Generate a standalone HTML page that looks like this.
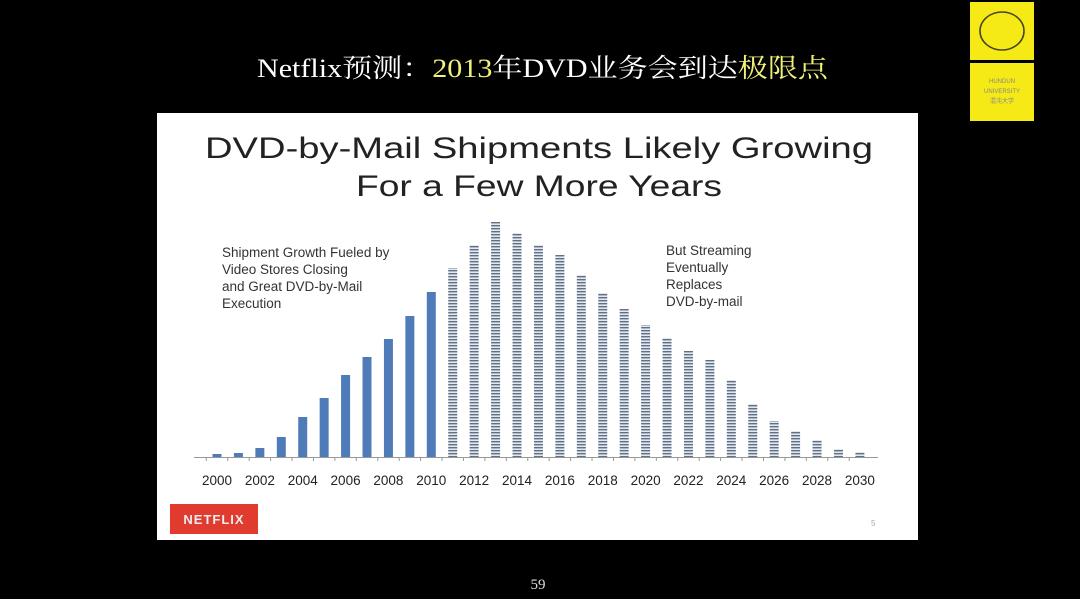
<!DOCTYPE html>
<html><head><meta charset="utf-8"><style>
html,body{margin:0;padding:0;background:#000;}
svg{display:block;}
</style></head><body>
<svg width="1080" height="599" xmlns="http://www.w3.org/2000/svg">
<defs>
<pattern id="st" width="4" height="3" patternUnits="userSpaceOnUse">
<rect width="4" height="3" fill="#e4e8ee"/>
<rect width="4" height="1.4" fill="#5f7187"/>
</pattern>
</defs>
<rect width="1080" height="599" fill="#000"/>
<text x="257" y="77" font-family="Liberation Serif, Noto Serif CJK SC, serif" font-size="26" fill="#fff" textLength="571" lengthAdjust="spacingAndGlyphs">Netflix预测：<tspan fill="#f0f07a">2013</tspan>年DVD业务会到达<tspan fill="#f0f07a">极限点</tspan></text>
<!-- logo -->
<rect x="970" y="2" width="64" height="58" fill="#f5ea16"/>
<rect x="970" y="63" width="64" height="58" fill="#f5ea16"/>
<ellipse cx="1002" cy="31" rx="22" ry="19" fill="none" stroke="#4a4520" stroke-width="1.6"/>
<text x="1002" y="83" font-family="Liberation Sans, sans-serif" font-size="6" fill="#888" text-anchor="middle">HUNDUN</text>
<text x="1002" y="93" font-family="Liberation Sans, sans-serif" font-size="6" fill="#888" text-anchor="middle">UNIVERSITY</text>
<text x="1002" y="103" font-family="Liberation Sans, sans-serif" font-size="6" fill="#888" text-anchor="middle">混沌大学</text>
<!-- slide -->
<rect x="157" y="113" width="761" height="427" fill="#fff"/>
<text x="539" y="158" font-family="Liberation Sans, sans-serif" font-size="30" fill="#222" text-anchor="middle" textLength="668" lengthAdjust="spacingAndGlyphs">DVD-by-Mail Shipments Likely Growing</text>
<text x="539" y="196" font-family="Liberation Sans, sans-serif" font-size="30" fill="#222" text-anchor="middle" textLength="366" lengthAdjust="spacingAndGlyphs">For a Few More Years</text>
<g font-family="Liberation Sans, sans-serif" font-size="13.5" fill="#333">
<text x="222" y="257">Shipment Growth Fueled by</text>
<text x="222" y="274">Video Stores Closing</text>
<text x="222" y="291">and Great DVD-by-Mail</text>
<text x="222" y="308">Execution</text>
<text x="666" y="255">But Streaming</text>
<text x="666" y="272">Eventually</text>
<text x="666" y="289">Replaces</text>
<text x="666" y="306">DVD-by-mail</text>
</g>
<line x1="194" y1="457.5" x2="878" y2="457.5" stroke="#999" stroke-width="1"/>
<g id="bars"></g>
<g font-family="Liberation Sans, sans-serif" font-size="13.5" fill="#222" text-anchor="middle" id="labels"></g>
<rect x="170" y="504" width="88" height="30" fill="#e13a2e"/>
<text x="214" y="524" font-family="Liberation Sans, sans-serif" font-size="13" font-weight="bold" fill="#eee" text-anchor="middle" letter-spacing="1">NETFLIX</text>
<text x="871" y="526" font-family="Liberation Sans, sans-serif" font-size="8" fill="#aaa">5</text>
<text x="538" y="589" font-family="Liberation Serif, serif" font-size="15" fill="#ddd" text-anchor="middle">59</text>
<script>
var tops=[454,453,448,437,417,398,375,357,339,316,292,268,245,222,233,245,255,275,293,309,325,338,351,360,380,404,421,431,440,449,452];
var g=document.getElementById('bars'),L=document.getElementById('labels'),ns='http://www.w3.org/2000/svg';
for(var i=0;i<31;i++){var cx=217+i*21.43;var r=document.createElementNS(ns,'rect');
r.setAttribute('x',cx-4.5);r.setAttribute('y',tops[i]);r.setAttribute('width',9);r.setAttribute('height',457-tops[i]);
r.setAttribute('fill',i<=10?'#4f7cb9':'url(#st)');g.appendChild(r);
var t=document.createElementNS(ns,'line');t.setAttribute('x1',cx-10.7);t.setAttribute('x2',cx-10.7);t.setAttribute('y1',457);t.setAttribute('y2',461);t.setAttribute('stroke','#999');g.appendChild(t);
if(i%2==0){var tx=document.createElementNS(ns,'text');tx.setAttribute('x',cx);tx.setAttribute('y',485);tx.textContent=2000+i;L.appendChild(tx);}}
</script>
</svg>
</body></html>
